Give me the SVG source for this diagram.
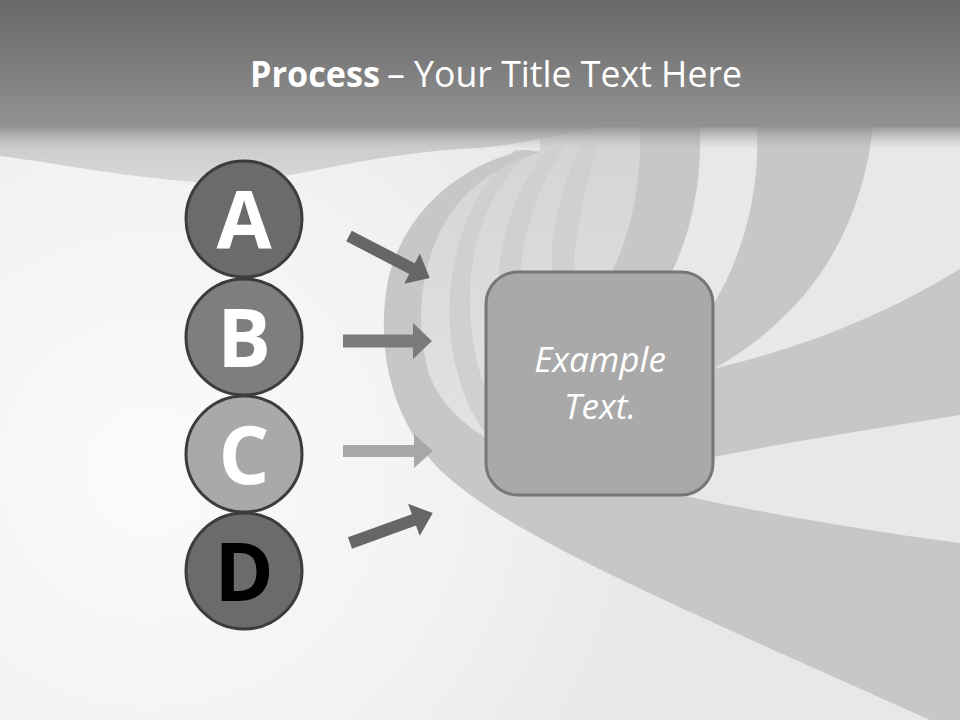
<svg xmlns="http://www.w3.org/2000/svg" width="960" height="720" viewBox="0 0 960 720">
  <defs>
    <linearGradient id="titleGrad" x1="0" y1="0" x2="0" y2="1">
      <stop offset="0" stop-color="#676767"/>
      <stop offset="1" stop-color="#929292"/>
    </linearGradient>
    <linearGradient id="shadowGrad" x1="0" y1="0" x2="0" y2="1">
      <stop offset="0" stop-color="#8c8c8c" stop-opacity="0.85"/>
      <stop offset="1" stop-color="#b0b0b0" stop-opacity="0"/>
    </linearGradient>
    <linearGradient id="topBand" x1="0" y1="0" x2="0" y2="1">
      <stop offset="0" stop-color="#c0c0c0"/>
      <stop offset="1" stop-color="#d6d6d6"/>
    </linearGradient>
    <radialGradient id="glow" cx="150" cy="470" r="520" gradientUnits="userSpaceOnUse">
      <stop offset="0" stop-color="#fbfbfb"/>
      <stop offset="0.6" stop-color="#f2f2f2"/>
      <stop offset="1" stop-color="#e8e8e8"/>
    </radialGradient>
    <linearGradient id="tunnel" x1="0" y1="0" x2="0" y2="1">
      <stop offset="0" stop-color="#d4d4d4"/>
      <stop offset="1" stop-color="#e4e4e4"/>
    </linearGradient>
    <style>
      .band { fill: #c7c7c7; }
      .stripe { fill: #d0d0d0; }
      .circle { stroke: #3c3c3c; stroke-width: 3; }
      .letter { font-family: "Open Sans", "Noto Sans", "Liberation Sans", sans-serif; font-weight: bold; font-size: 80px; text-anchor: middle; }
      .title { font-family: "Open Sans", "Noto Sans", "Liberation Sans", sans-serif; font-size: 36px; fill: #ffffff; }
      .box { fill: #a9a9a9; stroke: #777777; stroke-width: 3; }
      .boxText { font-family: "Open Sans", "Noto Sans", "Liberation Sans", sans-serif; font-style: italic; font-size: 35px; fill: #ffffff; text-anchor: middle; }
    </style>
  </defs>

  <!-- background -->
  <rect x="0" y="0" width="960" height="720" fill="url(#glow)"/>
  <!-- tunnel interior -->
  <path d="M 540,150 C 500,165 470,185 450,215 C 420,260 415,320 428,370 C 440,410 480,445 560,470 L 640,480 L 640,272 C 650,230 655,180 640,127 L 540,127 Z" fill="url(#tunnel)"/>
  <path class="stripe" d="M 515,150 C 470,190 445,260 450,330 C 455,380 470,420 500,450 L 520,455 C 488,410 472,360 470,310 C 468,250 486,190 532,150 Z"/>
  <path class="stripe" d="M 548,148 C 505,200 494,262 498,330 L 518,330 C 516,262 528,200 564,148 Z"/>
  <path class="stripe" d="M 580,145 C 556,200 550,245 552,272 L 574,272 C 574,240 582,200 598,145 Z"/>
  <!-- band 1 (left arc + lower sweep) -->
  <path class="band" d="M 525,150 C 460,165 405,210 388,280 C 375,350 392,420 440,470 C 510,535 640,590 930,720 L 960,720 L 960,543 C 860,530 760,512 690,497 L 560,470 C 480,445 440,410 428,370 C 415,320 420,260 450,215 C 470,185 500,165 540,152 Z"/>
  <!-- band 4 -->
  <path class="band" d="M 640,127 L 700,127 C 702,180 692,230 672,272 L 612,272 C 632,230 642,180 640,127 Z"/>
  <!-- band 3 -->
  <path class="band" d="M 757,127 L 873,127 C 865,200 835,270 780,320 C 760,340 735,357 713,369 L 713,305 C 740,260 760,200 757,127 Z"/>
  <!-- band 2 -->
  <path class="band" d="M 713,369 C 800,348 880,318 960,269 L 960,415 C 880,428 800,440 713,457 Z"/>
  <!-- top band under title -->
  <path d="M 0,127 H 600 C 560,135 520,144 480,148 C 400,151 330,168 290,175 C 250,182 215,184 193,182 C 120,176 60,164 0,156 Z" fill="url(#topBand)" opacity="0.9"/>
  <rect x="0" y="127" width="960" height="22" fill="url(#shadowGrad)"/>

  <!-- title -->
  <g id="title">
    <rect x="0" y="0" width="960" height="127" fill="url(#titleGrad)"/>
    <text class="title" x="250" y="87" font-weight="bold" textLength="130" lengthAdjust="spacingAndGlyphs">Process</text>
    <text class="title" x="387" y="87" textLength="355" lengthAdjust="spacingAndGlyphs">– Your Title Text Here</text>
  </g>

  <!-- connectors -->
  <g id="connectors">
    <path transform="translate(349,236) rotate(27.4)" d="M0,-6 L71,-6 L71,-17 L91,0 L71,17 L71,6 L0,6 Z" fill="#666666"/>
    <path transform="translate(343,341)" d="M0,-6.5 L70,-6.5 L70,-18 L89,0 L70,18 L70,6.5 L0,6.5 Z" fill="#7a7a7a"/>
    <path transform="translate(343,451)" d="M0,-6 L71,-6 L71,-17 L90,0 L71,17 L71,6 L0,6 Z" fill="#a8a8a8"/>
    <path transform="translate(350,543) rotate(-19.9)" d="M0,-6 L68,-6 L68,-17 L88,0 L68,17 L68,6 L0,6 Z" fill="#666666"/>
  </g>

  <!-- nodes -->
  <g id="node-a">
    <circle class="circle" cx="244" cy="219" r="58" fill="#6b6b6b"/>
    <text class="letter" x="244" y="249" fill="#ffffff">A</text>
  </g>
  <g id="node-b">
    <circle class="circle" cx="244" cy="337" r="58" fill="#7e7e7e"/>
    <text class="letter" x="244" y="367" fill="#ffffff">B</text>
  </g>
  <g id="node-c">
    <circle class="circle" cx="244" cy="454" r="58" fill="#a9a9a9"/>
    <text class="letter" x="244" y="484" fill="#ffffff">C</text>
  </g>
  <g id="node-d">
    <circle class="circle" cx="244" cy="571" r="58" fill="#6b6b6b"/>
    <text class="letter" x="244" y="601" fill="#000000">D</text>
  </g>
  <g id="node-box">
    <rect class="box" x="486" y="272" width="227" height="223" rx="32" ry="32"/>
    <text class="boxText" x="600" y="372">Example</text>
    <text class="boxText" x="600" y="419">Text.</text>
  </g>
</svg>
